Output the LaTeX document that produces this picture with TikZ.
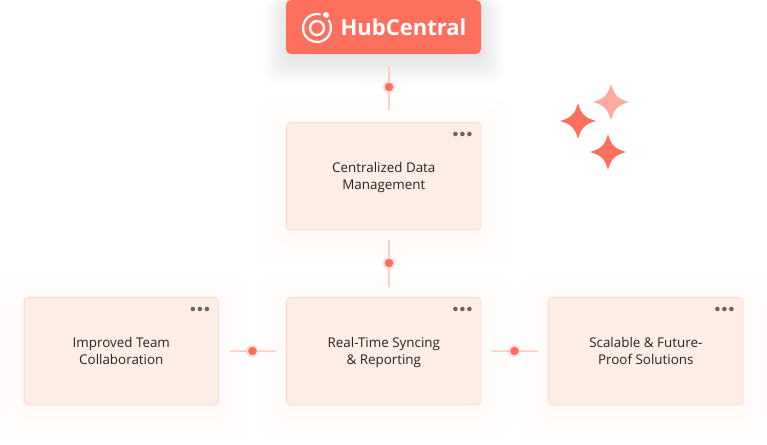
\documentclass[tikz,border=0pt]{standalone}
\usepackage{fontspec}
\setmainfont{Open Sans}
\usetikzlibrary{calc}
\definecolor{coral}{HTML}{FF6F5E}
\definecolor{lightcoral}{HTML}{FFAAA0}
\definecolor{boxfill}{HTML}{FFEEE8}
\definecolor{boxline}{HTML}{FFD9C8}
\definecolor{linkline}{HTML}{FFCFBE}
\definecolor{menugrey}{HTML}{6B6460}
\definecolor{inktext}{HTML}{26221F}
\tikzset{
	card/.style={draw=boxline,fill=boxfill,rounded corners=4pt,line width=.8pt,minimum width=194.4pt,minimum height=107.6pt,
		align=center,text=inktext,text depth=0pt,font=\fontsize{13.4}{17}\selectfont},
	hubbox/.style={fill=coral,rounded corners=5pt,minimum width=195pt,minimum height=54pt,inner sep=0pt},
	link/.style={draw=linkline,line width=1.6pt},
	linkdot/.style={circle,fill=coral,draw=white,line width=.8pt,minimum size=10pt,inner sep=0pt,
		preaction={draw=coral,draw opacity=.3,line width=2.6pt}},
	menudot/.style={circle,fill=menugrey,minimum size=4.6pt,inner sep=0pt},
}
\begin{document}
\begin{tikzpicture}[x=1pt,y=-1pt]
	\useasboundingbox (0,0) rectangle (767,444);
	% soft shadows first
	\foreach \bx/\by in {286/122,24/297,286/297,548/297}
	\foreach \g in {2,4,...,32}
	\fill[boxline,opacity=.009,rounded corners=14pt] (\bx-\g,\by-\g+6) rectangle (\bx+195+\g,\by+108+\g+6);
	\foreach \g in {1,2,...,24}
	\fill[black,opacity=.0026,rounded corners=14pt] (286-\g,0) rectangle (481+\g,53+\g+8);
	% boxes
	\node[hubbox] (hub) at (383.5,27) {};
	\node[card] (data) at (383.8,176.2) {Centralized Data\\Management};
	\node[card] (team) at (121.3,351.2) {Improved Team\\Collaboration};
	\node[card] (sync) at (383.8,351.2) {Real-Time Syncing\\\& Reporting};
	\node[card] (scale) at (645.8,351.2) {Scalable \& Future-\\Proof Solutions};
	% logo
	\node[text=white,font=\fontsize{22}{22}\selectfont\bfseries,inner sep=0pt] (hubname) at (403.5,27) {HubCentral};
	\draw[white,line width=2.2pt] (317,28)+(-35:14) arc (-35:285:14);
	\draw[white,line width=2.4pt] (317,28) circle (7);
	\fill[white] (326,15) circle (3);
	% connectors
	\node[linkdot] (dotA) at (389,87) {};
	\node[linkdot] (dotB) at (389,263) {};
	\node[linkdot] (dotC) at (252.5,351) {};
	\node[linkdot] (dotD) at (514.5,351) {};
	\draw[link,shorten <=12pt] (dotA |- hub.south) -- (dotA);
	\draw[link,shorten >=12pt] (dotA) -- (dotA |- data.north);
	\draw[link,shorten <=10pt] (dotB |- data.south) -- (dotB);
	\draw[link,shorten >=10pt] (dotB) -- (dotB |- sync.north);
	\draw[link,shorten <=11pt] (team.east) -- (dotC);
	\draw[link,shorten >=10pt] (dotC) -- (sync.west);
	\draw[link,shorten <=10pt] (sync.east) -- (dotD);
	\draw[link,shorten >=10pt] (dotD) -- (scale.west);
	\foreach \card in {data,team,sync,scale}{
		\node[menudot] (\card m1) at ($(\card.north east)+(-26,12)$) {};
		\node[menudot] (\card m2) at ($(\card.north east)+(-19,12)$) {};
		\node[menudot] (\card m3) at ($(\card.north east)+(-12,12)$) {};
	}
	% sparkles
	\foreach \sx/\sy/\scol in {578/121/coral,611/102/lightcoral,608/152/coral}
	\fill[\scol,shift={(\sx,\sy)}] (0,-18) .. controls (3,-7) and (7,-3) .. (18,0) .. controls (7,3) and (3,7) .. (0,18)
		.. controls (-3,7) and (-7,3) .. (-18,0) .. controls (-7,-3) and (-3,-7) .. (0,-18);
\end{tikzpicture}
\end{document}
